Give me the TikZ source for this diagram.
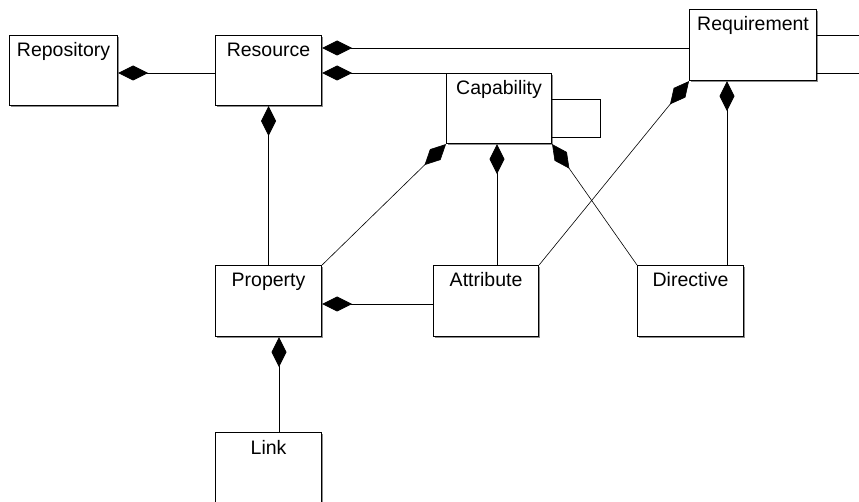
\documentclass[tikz,border=0pt]{standalone}
\usepackage{fontspec}
\setmainfont{Liberation Sans}
\usetikzlibrary{arrows.meta,shadows}
\begin{document}
\begin{tikzpicture}[x=1pt,y=-1pt,
  cls/.style={draw, fill=white, line width=1.1pt, anchor=north west, inner sep=0pt,
    general shadow={shadow xshift=1.3pt, shadow yshift=-1.3pt, fill=black!45}},
  lbl/.style={anchor=base, inner sep=0pt, font=\fontsize{19.5}{23}\selectfont},
  conn/.style={line width=0.9pt},
  diag/.style={line width=0.6pt},
  comp/.style={{Diamond[length=30pt,width=15pt]}-}]
\useasboundingbox (0,0) rectangle (859,502);
\clip (0,0) rectangle (859,502);

% classes
\node[cls, minimum width=108pt, minimum height=70pt] (repo) at (9,35) {};
\node[cls, minimum width=106pt, minimum height=70pt] (res)  at (215,35) {};
\node[cls, minimum width=105pt, minimum height=70pt] (cap)  at (446,73) {};
\node[cls, minimum width=127pt, minimum height=71pt] (req)  at (689,9) {};
\node[cls, minimum width=106pt, minimum height=71pt] (prop) at (215,265) {};
\node[cls, minimum width=105pt, minimum height=71pt] (att)  at (433,265) {};
\node[cls, minimum width=106pt, minimum height=71pt] (dir)  at (637,265) {};
\node[cls, minimum width=106pt, minimum height=71pt] (lnk)  at (215,432) {};

% class names
\node[lbl] at ([yshift=-22pt]repo.north) {Repository};
\node[lbl] at ([yshift=-22pt]res.north)  {Resource};
\node[lbl] at ([yshift=-22pt]cap.north)  {Capability};
\node[lbl] at ([yshift=-22pt]req.north)  {Requirement};
\node[lbl] at ([yshift=-22pt]prop.north) {Property};
\node[lbl] at ([yshift=-22pt]att.north)  {Attribute};
\node[lbl] at ([yshift=-22pt]dir.north)  {Directive};
\node[lbl] at ([yshift=-22pt]lnk.north)  {Link};

% compositions
\draw[conn,comp] ([yshift=-38pt]repo.north east) -- ([yshift=-38pt]res.north west);
\draw[conn,comp] ([yshift=-13pt]res.north east) -- ([yshift=-39pt]req.north west);
\draw[conn,comp] ([yshift=-38pt]res.north east) -- (cap.north west);
\draw[conn,comp] (res.south) -- (prop.north);

\coordinate (capb) at ([xshift=51pt]cap.south west);
\draw[conn,comp] (capb) -- (capb |- att.north);
\draw[diag,comp] (cap.south west) -- (prop.north east);
\draw[diag,comp] (cap.south east) -- (dir.north west);

\coordinate (reqb) at ([xshift=38pt]req.south west);
\draw[conn,comp] (reqb) -- (reqb |- dir.north);
\draw[diag,comp] (req.south west) -- (att.north east);

\draw[conn,comp] ([yshift=-39pt]prop.north east) -- ([yshift=-39pt]att.north west);
\coordinate (propb) at ([xshift=64pt]prop.south west);
\draw[conn,comp] (propb) -- (propb |- lnk.north);

% self associations
\draw[conn] ([yshift=-26pt]cap.north east) -- ++(48,0) -- ++(0,38) -- ([yshift=-64pt]cap.north east);
\draw[conn] ([yshift=-26pt]req.north east) -- ++(60,0) -- ++(0,38) -- ([yshift=-64pt]req.north east);
\end{tikzpicture}
\end{document}
